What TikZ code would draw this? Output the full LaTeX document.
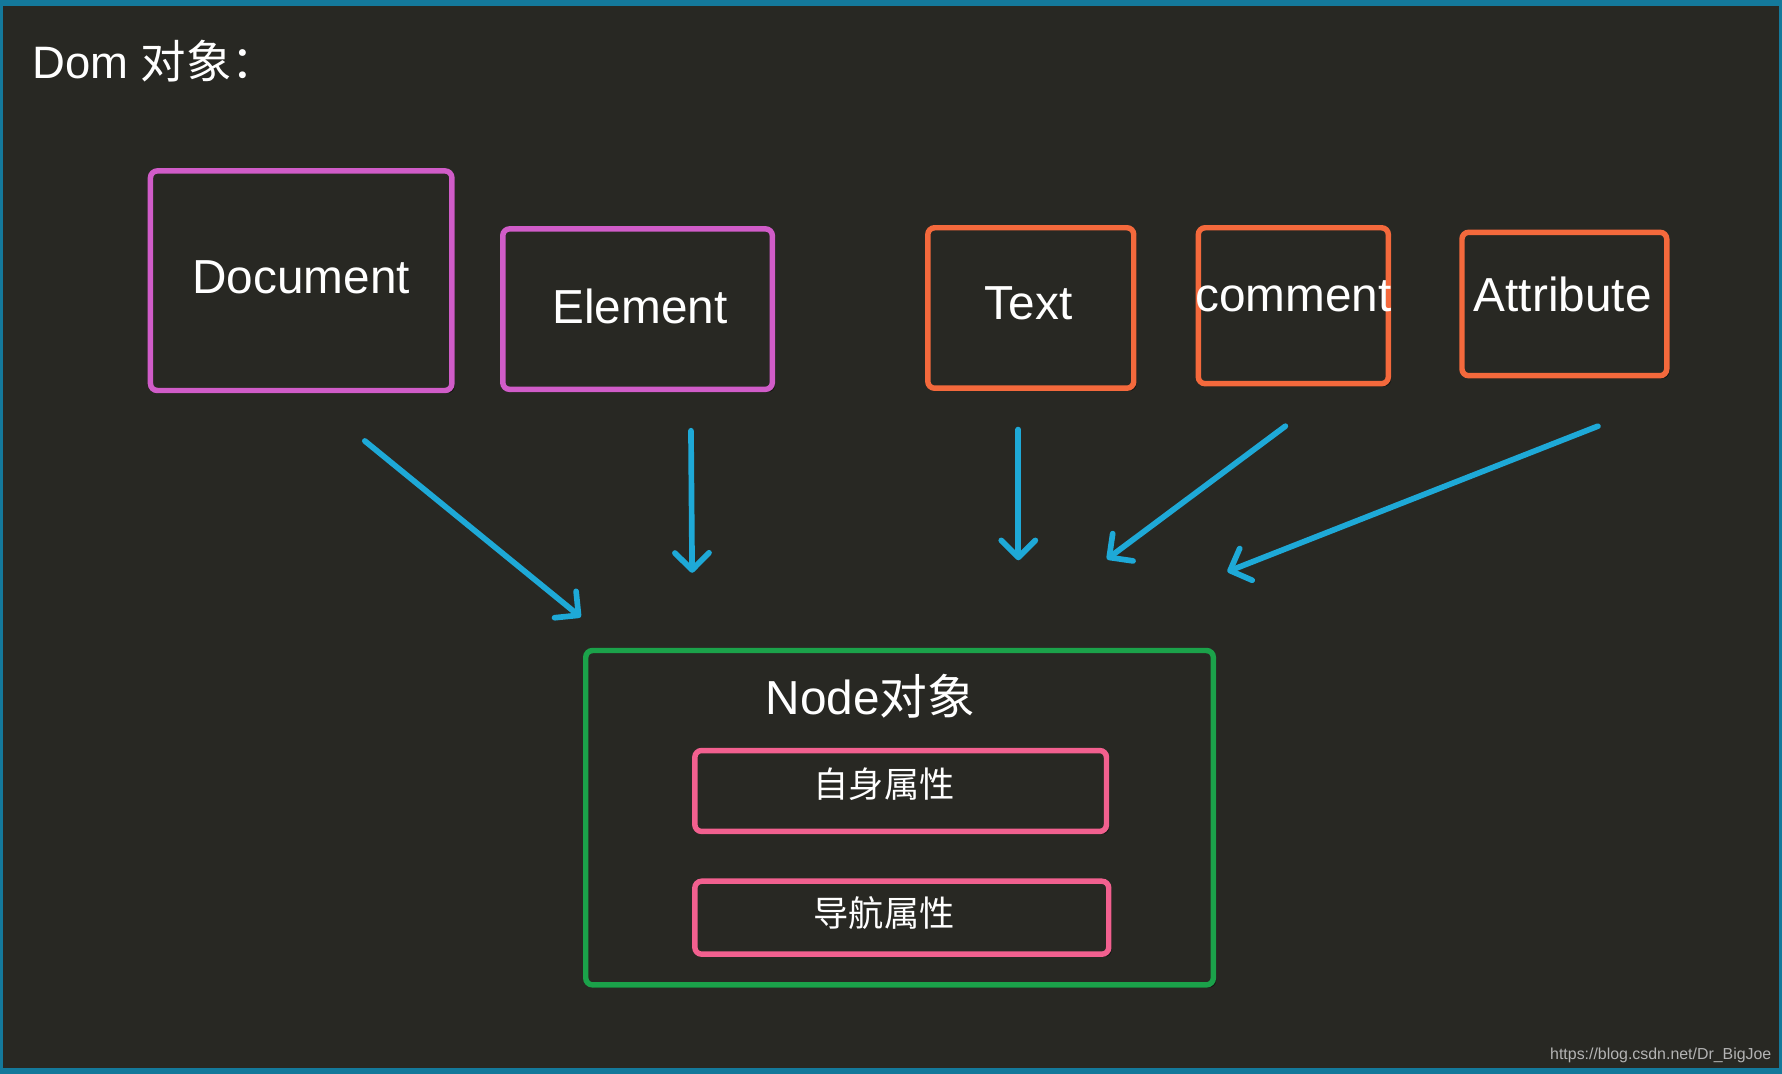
\documentclass[tikz,border=0pt]{standalone}
\usepackage{fontspec}
\setmainfont{Liberation Sans}
\newfontfamily\cjk{Noto Sans CJK SC}
\usetikzlibrary{arrows.meta,shadows}
\definecolor{bg}{HTML}{282823}
\definecolor{frameblue}{HTML}{14799B}
\definecolor{purplec}{HTML}{D05CC8}
\definecolor{orangec}{HTML}{F4693C}
\definecolor{greenc}{HTML}{1BA24A}
\definecolor{pinkc}{HTML}{F2608F}
\definecolor{arrowc}{HTML}{1EA9D7}
\definecolor{markgray}{HTML}{B4B4B4}
\tikzset{
  boxc/.style={draw, line width=2.4pt, rounded corners=3pt, fill=bg, inner sep=0pt,
    drop shadow={shadow xshift=1.2pt, shadow yshift=-1.2pt, opacity=0.45, fill=black}},
  lbl/.style={text=white, inner sep=0pt, anchor=base},
  arr/.style={draw=arrowc, line width=2.5pt, line cap=round,
    -{Straight Barb[length=7.5pt,width=15pt,round]}}
}
\begin{document}
\begin{tikzpicture}[x=0.5pt,y=-0.5pt]
\fill[frameblue] (0,0) rectangle (1568,945);
\fill[bg] (3,5) rectangle (1565,940);
\useasboundingbox (0,0) rectangle (1568,945);

% title
\node[lbl, anchor=base west, font=\fontsize{20pt}{24pt}\selectfont] (title) at (28,69.5) {Dom {\cjk 对象：}};

% top boxes
\node[boxc, draw=purplec, minimum width=132.6pt, minimum height=96.6pt] (doc) at (265,247) {};
\node[boxc, draw=purplec, minimum width=118.6pt, minimum height=70.6pt] (ele) at (561,272) {};
\node[boxc, draw=orangec, minimum width=90.6pt, minimum height=70.6pt] (txt) at (907,271) {};
\node[boxc, draw=orangec, minimum width=83.6pt, minimum height=68.6pt] (com) at (1138,269) {};
\node[boxc, draw=orangec, minimum width=90.1pt, minimum height=63.1pt] (att) at (1376.5,267.5) {};

\node[lbl, font=\fontsize{21pt}{25pt}\selectfont] (tdoc) at (265,258) {Document};
\node[lbl, font=\fontsize{21pt}{25pt}\selectfont] (tele) at (563,285) {Element};
\node[lbl, font=\fontsize{21pt}{25pt}\selectfont] (ttxt) at (905,281) {Text};
\node[lbl, font=\fontsize{21pt}{25pt}\selectfont] (tcom) at (1138,274) {comment};
\node[lbl, font=\fontsize{21pt}{25pt}\selectfont] (tatt) at (1375,274) {Attribute};

% node object
\node[boxc, draw=greenc, minimum width=276.1pt, minimum height=147.1pt] (nodeobj) at (791.5,719.5) {};
\node[lbl, font=\fontsize{21pt}{25pt}\selectfont] (tnode) at (766,629) {Node{\cjk 对象}};
\node[boxc, draw=pinkc, minimum width=181.1pt, minimum height=35.6pt] (self) at (792.5,696) {};
\node[boxc, draw=pinkc, minimum width=182.1pt, minimum height=32.1pt] (nav) at (793.5,807.5) {};
\node[lbl, font=\cjk\fontsize{15.5pt}{18pt}\selectfont] (tself) at (778,702) {自身属性};
\node[lbl, font=\cjk\fontsize{15.5pt}{18pt}\selectfont] (tnav) at (778,815) {导航属性};

% arrows
\coordinate (a1s) at (321,388); \coordinate (a1e) at (511,543);
\coordinate (a2s) at (608,379); \coordinate (a2e) at (609,504);
\coordinate (a3s) at (896,378); \coordinate (a3e) at (896,493);
\coordinate (a4s) at (1131,375); \coordinate (a4e) at (974,492);
\coordinate (a5s) at (1406,375); \coordinate (a5e) at (1080,503);
\draw[arr] (a1s) -- (a1e);
\draw[arr] (a2s) -- (a2e);
\draw[arr] (a3s) -- (a3e);
\draw[arr] (a4s) -- (a4e);
\draw[arr] (a5s) -- (a5e);

% watermark
\node[lbl, anchor=base east, text=markgray, font=\fontsize{7pt}{8pt}\selectfont] (mark) at (1559,932) {https://blog.csdn.net/Dr\_BigJoe};
\end{tikzpicture}
\end{document}
